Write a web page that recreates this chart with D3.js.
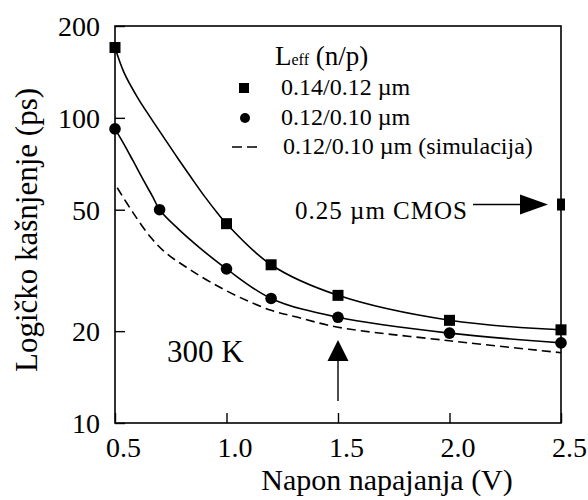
<!DOCTYPE html>
<html><head><meta charset="utf-8">
<script src="https://cdn.jsdelivr.net/npm/d3@7"></script>
<style>body{margin:0;background:#fff}svg{display:block}</style>
</head><body><svg id="c" width="588" height="500"></svg>
<script>
// ---- data ----
const xTicks = [0.5, 1.0, 1.5, 2.0, 2.5];
const yTicks = [10, 20, 50, 100, 200];
// measured markers
const sqV = [0.5, 1.0, 1.2, 1.5, 2.0, 2.5];
const sqD = [170, 45, 33, 26.2, 21.7, 20.2];
const ciV = [0.5, 0.7, 1.0, 1.2, 1.5, 2.0, 2.5];
const ciD = [92, 50, 32, 25.6, 22.2, 19.7, 18.3];
// traced fit curves
const sqCurveV = [0.5, 0.54, 0.6, 0.66, 0.72, 0.78, 0.84, 0.9, 0.96, 1.0, 1.2, 1.5, 2.0, 2.5];
const sqCurveD = [170, 141, 117, 100, 86, 74, 64, 55.5, 48.7, 45, 33, 26.2, 21.7, 20.2];
const ciCurveV = [0.5, 0.54, 0.58, 0.63, 0.67, 0.7, 0.78, 0.88, 1.0, 1.2, 1.5, 2.0, 2.5];
const ciCurveD = [92, 82, 72.5, 62, 55, 50, 43.5, 37.5, 32, 25.6, 22.2, 19.7, 18.3];
// simulation (dashed)
const simV = [0.51, 0.58, 0.66, 0.73, 0.82, 0.93, 1.06, 1.2, 1.32, 1.5, 2.0, 2.5];
const simD = [59, 49, 40.6, 36, 32.4, 28.9, 25.8, 23.4, 22.2, 20.6, 18.6, 17.0];
// 0.25 um CMOS reference point
const cmosV = [2.5];
const cmosD = [52];
const legendLabels = ["0.14/0.12 \u00b5m", "0.12/0.10 \u00b5m", "0.12/0.10 \u00b5m (simulacija)"];

// ---- layout ----
const FONT = "Liberation Serif";
const svg = d3.select("#c");
const L = 115, R = 561, T = 26, B = 423;
const x = d3.scaleLinear().domain([0.5, 2.5]).range([L, R]);
const y = d3.scaleLog().domain([10, 200]).range([B, T]);
const txt = (sel) => sel.style("font-family", FONT).attr("fill", "#000");

// frame
svg.append("rect").attr("x", L).attr("y", T).attr("width", R - L).attr("height", B - T)
  .attr("fill", "none").attr("stroke", "#000").attr("stroke-width", 1.6);

// axes
const ya = svg.append("g").attr("transform", `translate(${L},0)`)
  .call(d3.axisLeft(y).tickValues(yTicks).tickFormat(d3.format("d")).tickSize(-10).tickPadding(15));
ya.attr("font-family", null);
ya.select(".domain").remove();
ya.selectAll("line").attr("stroke", "#000").attr("stroke-width", 1.4);
ya.selectAll("text").attr("font-size", 28).attr("dy", "0.34em").call(txt);

const xa = svg.append("g").attr("transform", `translate(0,${B})`)
  .call(d3.axisBottom(x).tickValues(xTicks).tickFormat(d3.format(".1f")).tickSize(-10).tickPadding(14));
xa.attr("font-family", null);
xa.select(".domain").remove();
xa.selectAll("line").attr("stroke", "#000").attr("stroke-width", 1.4);
xa.selectAll("text").attr("font-size", 28).attr("dx", 8).call(txt);

// axis titles
svg.append("text").attr("transform", "translate(37,230) rotate(-90)")
  .attr("text-anchor", "middle").attr("font-size", 31).call(txt).text("Logičko kašnjenje (ps)");
svg.append("text").attr("x", 387).attr("y", 490)
  .attr("text-anchor", "middle").attr("font-size", 30).call(txt).text("Napon napajanja (V)");

// curves
const line = d3.line().x(d => x(d[0])).y(d => y(d[1])).curve(d3.curveCatmullRom.alpha(0.5));
const zip = (a, b) => a.map((v, i) => [v, b[i]]);
svg.append("path").attr("d", line(zip(sqCurveV, sqCurveD)))
  .attr("fill", "none").attr("stroke", "#000").attr("stroke-width", 1.6);
svg.append("path").attr("d", line(zip(ciCurveV, ciCurveD)))
  .attr("fill", "none").attr("stroke", "#000").attr("stroke-width", 1.6);
svg.append("path").attr("d", line(zip(simV, simD)))
  .attr("fill", "none").attr("stroke", "#000").attr("stroke-width", 1.6)
  .attr("stroke-dasharray", "9,5");

// markers
const S = 11;
svg.append("g").selectAll("rect").data(zip(sqV, sqD)).join("rect")
  .attr("x", d => x(d[0]) - S / 2).attr("y", d => y(d[1]) - S / 2)
  .attr("width", S).attr("height", S).attr("fill", "#000");
svg.append("g").selectAll("circle").data(zip(ciV, ciD)).join("circle")
  .attr("cx", d => x(d[0])).attr("cy", d => y(d[1])).attr("r", 5.8).attr("fill", "#000");
svg.append("g").selectAll("rect").data(zip(cmosV, cmosD)).join("rect")
  .attr("x", d => x(d[0]) - 4).attr("y", d => y(d[1]) - 6)
  .attr("width", 8).attr("height", 12).attr("fill", "#000");

// legend
const lt = svg.append("text").attr("x", 275).attr("y", 65).attr("font-size", 27).call(txt);
lt.append("tspan").text("L");
lt.append("tspan").attr("font-size", 16).text("eff");
lt.append("tspan").text(" (n/p)");
const legY = [88, 118, 147];
svg.append("rect").attr("x", 239).attr("y", legY[0] - 5).attr("width", 10).attr("height", 10).attr("fill", "#000");
svg.append("circle").attr("cx", 245).attr("cy", legY[1]).attr("r", 5).attr("fill", "#000");
svg.append("line").attr("x1", 232).attr("x2", 259).attr("y1", legY[2]).attr("y2", legY[2])
  .attr("stroke", "#000").attr("stroke-width", 1.6).attr("stroke-dasharray", "10,5");
legendLabels.forEach((t, i) => {
  svg.append("text").attr("x", i === 2 ? 283 : 281).attr("y", legY[i] + 7)
    .attr("font-size", 24).call(txt).text(t);
});

// annotations
const cy = y(cmosD[0]);
svg.append("text").attr("x", 295).attr("y", cy + 14).attr("font-size", 25)
  .attr("letter-spacing", 1).call(txt).text("0.25 \u00b5m CMOS");
svg.append("line").attr("x1", 473).attr("x2", 524).attr("y1", cy).attr("y2", cy)
  .attr("stroke", "#000").attr("stroke-width", 1.4);
svg.append("path").attr("d", `M520,${cy - 10}L548,${cy}L520,${cy + 10}Z`).attr("fill", "#000");

const ax = x(1.5);
svg.append("line").attr("x1", ax).attr("x2", ax).attr("y1", 401).attr("y2", 358)
  .attr("stroke", "#000").attr("stroke-width", 1.4);
svg.append("path").attr("d", `M${ax - 10.5},361L${ax},340L${ax + 10.5},361Z`).attr("fill", "#000");

svg.append("text").attr("x", 167).attr("y", 362).attr("font-size", 31).call(txt).text("300 K");
</script>
</body></html>
